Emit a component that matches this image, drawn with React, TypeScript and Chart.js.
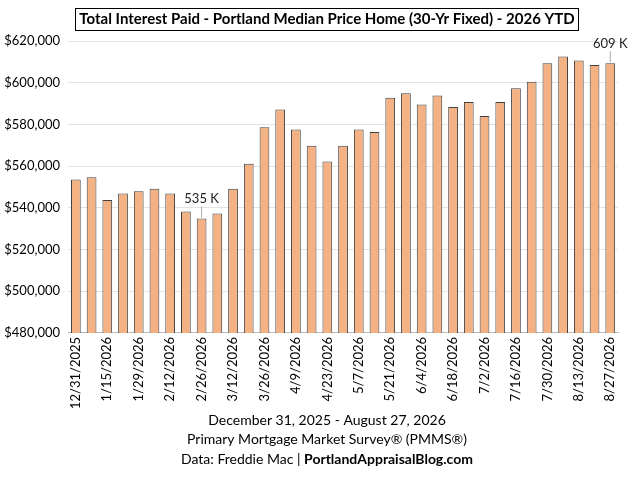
import React, { useEffect, useRef } from "react";
import { Chart, registerables } from "chart.js";
Chart.register(...registerables);

const dates = ["12/31/2025","1/8/2026","1/15/2026","1/22/2026","1/29/2026","2/5/2026","2/12/2026","2/19/2026","2/26/2026","3/5/2026","3/12/2026","3/19/2026","3/26/2026","4/2/2026","4/9/2026","4/16/2026","4/23/2026","4/30/2026","5/7/2026","5/14/2026","5/21/2026","5/28/2026","6/4/2026","6/11/2026","6/18/2026","6/25/2026","7/2/2026","7/9/2026","7/16/2026","7/23/2026","7/30/2026","8/6/2026","8/13/2026","8/20/2026","8/27/2026"];
const interest = [553600,554700,543700,546900,548000,549100,546900,538200,534900,537300,549100,561100,578600,587200,577600,569800,562200,569800,577600,576300,592800,595000,589600,593900,588300,590700,584000,590700,597300,600500,609300,612600,610600,608500,609300];
const callouts: Record<number, string> = { 8: "535 K", 34: "609 K" };
const titleText = "Total Interest Paid - Portland Median Price Home (30-Yr Fixed) - 2026 YTD";
const footer = ["December 31, 2025 - August 27, 2026", "Primary Mortgage Market Survey® (PMMS®)"];

const FONT = "Lato, 'Open Sans', sans-serif";

const decor = {
  id: "decor",
  afterDraw(chart: any) {
    const ctx = chart.ctx;
    const W = chart.width;
    ctx.save();
    ctx.font = `bold 15px ${FONT}`;
    ctx.textAlign = "center";
    ctx.textBaseline = "middle";
    const tw = ctx.measureText(titleText).width;
    ctx.fillStyle = "#000";
    ctx.fillText(titleText, W / 2 + 12, 19);
    ctx.strokeStyle = "#000";
    ctx.lineWidth = 1;
    ctx.strokeRect(Math.round(W / 2 + 12 - tw / 2 - 4) + 0.5, 8.5, Math.round(tw + 8), 22);
    const meta = chart.getDatasetMeta(0);
    ctx.font = `13px ${FONT}`;
    Object.keys(callouts).forEach((k) => {
      const i = Number(k);
      const el = meta.data[i];
      ctx.strokeStyle = "#aaa";
      ctx.beginPath();
      ctx.moveTo(el.x, el.y - 1);
      ctx.lineTo(el.x, el.y - 12);
      ctx.stroke();
      ctx.fillStyle = "#222";
      ctx.textBaseline = "bottom";
      ctx.fillText(callouts[i], el.x, el.y - 13);
    });
    ctx.fillStyle = "#000";
    ctx.textBaseline = "middle";
    ctx.font = `14px ${FONT}`;
    ctx.fillText(footer[0], W / 2 + 12, 420);
    ctx.fillText(footer[1], W / 2 + 12, 439);
    const a = "Data: Freddie Mac | ";
    const b = "PortlandAppraisalBlog.com";
    const aw = ctx.measureText(a).width;
    ctx.font = `bold 14px ${FONT}`;
    const bw = ctx.measureText(b).width;
    const x0 = W / 2 + 12 - (aw + bw) / 2;
    ctx.textAlign = "left";
    ctx.font = `14px ${FONT}`;
    ctx.fillText(a, x0, 459);
    ctx.font = `bold 14px ${FONT}`;
    ctx.fillText(b, x0 + aw, 459);
    ctx.restore();
  },
};

export default function App() {
  const ref = useRef<HTMLCanvasElement>(null);
  useEffect(() => {
    const chart = new Chart(ref.current!, {
      type: "bar",
      data: {
        labels: dates,
        datasets: [{
          data: interest,
          backgroundColor: "#F4B183",
          borderColor: "#404040",
          borderWidth: 1,
          barPercentage: 0.62,
          categoryPercentage: 1,
        }],
      },
      options: {
        animation: false,
        responsive: false,
        layout: { padding: { top: 41, bottom: 67, left: 0, right: 10 } },
        plugins: { legend: { display: false }, tooltip: { enabled: false }, title: { display: false } },
        scales: {
          x: {
            grid: { display: false, drawTicks: false },
            border: { color: "#bbb" },
            ticks: {
              autoSkip: false, maxRotation: 90, minRotation: 90, color: "#000",
              font: { family: FONT, size: 13 },
              padding: 4,
              callback: (_v: any, i: number) => (i % 2 === 0 ? dates[i] : ""),
            },
          },
          y: {
            min: 480000, max: 620000,
            afterFit: (s: any) => { s.width = 68; },
            grid: { color: "#e3e3e3", drawTicks: false },
            border: { display: false },
            ticks: {
              stepSize: 20000, color: "#000", font: { family: FONT, size: 13 }, padding: 8,
              callback: (v: any) => "$" + Number(v).toLocaleString("en-US"),
            },
          },
        },
      },
      plugins: [decor],
    });
    return () => chart.destroy();
  }, []);
  return (
    <div style={{ position: "absolute", left: 0, top: 0 }}>
      <canvas ref={ref} width={630} height={480} style={{ width: 630, height: 480 }} />
    </div>
  );
}
